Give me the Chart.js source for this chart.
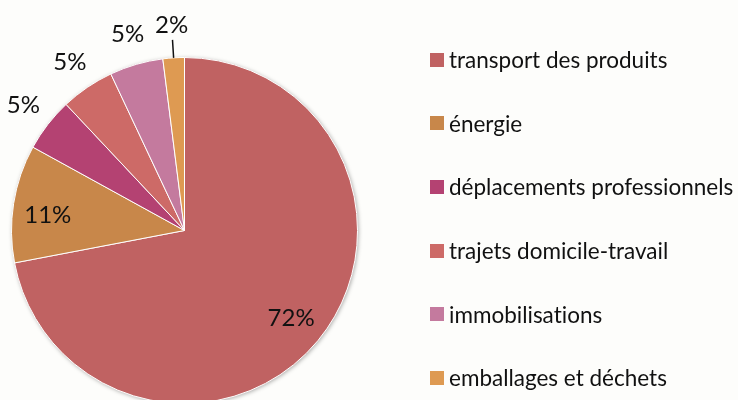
<!DOCTYPE html>
<html>
<head>
<meta charset="utf-8">
<script src="https://cdn.jsdelivr.net/npm/chart.js@4/dist/chart.umd.min.js"></script>
<style>
  html, body { margin: 0; padding: 0; overflow: hidden; background: #fdfdfb; }
  #wrap { position: relative; width: 738px; height: 404px; }
  #legend { position: absolute; left: 430px; top: 28px; font-family: Lato, sans-serif; font-size: 22.5px; color: #111; font-variant-ligatures: none; font-feature-settings: "liga" 0, "clig" 0; }
  .item { display: flex; align-items: center; height: 63.6px; white-space: nowrap; }
  .box { width: 14px; height: 14px; margin-right: 5px; flex: none; }
</style>
</head>
<body>
<div id="wrap">
  <canvas id="pie-chart" width="738" height="404"></canvas>
  <div id="legend"></div>
</div>
<script>
var categories = [
  "transport des produits",
  "énergie",
  "déplacements professionnels",
  "trajets domicile-travail",
  "immobilisations",
  "emballages et déchets"
];
var shares = [72, 11, 5, 5, 5, 2];
var sliceColors = ["#c06262", "#c8874a", "#b44272", "#cd6a67", "#c47a9e", "#de9a52"];

// shadow under the whole pie
var pieShadow = {
  id: "pieShadow",
  beforeDatasetsDraw: function (chart) {
    let arc = chart.getDatasetMeta(0).data[0];
    if (!arc) return;
    let ctx = chart.ctx;
    ctx.save();
    ctx.shadowColor = "rgba(0,0,0,0.35)";
    ctx.shadowBlur = 4;
    ctx.shadowOffsetX = 1;
    ctx.shadowOffsetY = 1;
    ctx.fillStyle = "#c06262";
    ctx.beginPath();
    ctx.arc(arc.x, arc.y, arc.outerRadius, 0, Math.PI * 2);
    ctx.fill();
    ctx.restore();
  }
};

// percent labels, inside for big slices, outside for small ones
var pieLabels = {
  id: "pieLabels",
  afterDatasetsDraw: function (chart) {
    let ctx = chart.ctx;
    let meta = chart.getDatasetMeta(0);
    ctx.save();
    ctx.font = "24px Lato, sans-serif";
    ctx.fillStyle = "#111";
    ctx.textAlign = "center";
    ctx.textBaseline = "middle";
    meta.data.forEach(function (arc, i) {
      let v = shares[i];
      let mid = (arc.startAngle + arc.endAngle) / 2;
      let r = arc.outerRadius;
      let d = v >= 10 ? r * 0.8 : r + 31;
      let x = arc.x + Math.cos(mid) * d;
      let y = arc.y + Math.sin(mid) * d;
      if (v >= 10 && v < 50) y += 6; // excel nudges this one down a bit
      if (v < 3) {
        ctx.strokeStyle = "#111";
        ctx.lineWidth = 1.5;
        ctx.beginPath();
        ctx.moveTo(arc.x + Math.cos(mid) * r, arc.y + Math.sin(mid) * r);
        ctx.lineTo(arc.x + Math.cos(mid) * (r + 18), arc.y + Math.sin(mid) * (r + 18));
        ctx.stroke();
        d = r + 33;
        x = arc.x + Math.cos(mid) * d;
        y = arc.y + Math.sin(mid) * d;
      }
      ctx.fillText(v + "%", x, y);
    });
    ctx.restore();
  }
};

let ctx = document.getElementById("pie-chart").getContext("2d");
new Chart(ctx, {
  type: "pie",
  data: {
    labels: categories,
    datasets: [{
      data: shares,
      backgroundColor: sliceColors,
      borderColor: "#ffffff",
      borderWidth: 1
    }]
  },
  options: {
    responsive: false,
    animation: false,
    layout: { padding: { left: 11, top: 57, right: 380, bottom: 0 } },
    plugins: {
      legend: { display: false },
      tooltip: { enabled: false }
    }
  },
  plugins: [pieShadow, pieLabels]
});

// legend built from the same arrays
let legend = document.getElementById("legend");
categories.forEach(function (name, i) {
  let item = document.createElement("div");
  item.className = "item";
  let box = document.createElement("span");
  box.className = "box";
  box.style.background = sliceColors[i];
  let label = document.createElement("span");
  label.textContent = name;
  item.appendChild(box);
  item.appendChild(label);
  legend.appendChild(item);
});
</script>
</body>
</html>
